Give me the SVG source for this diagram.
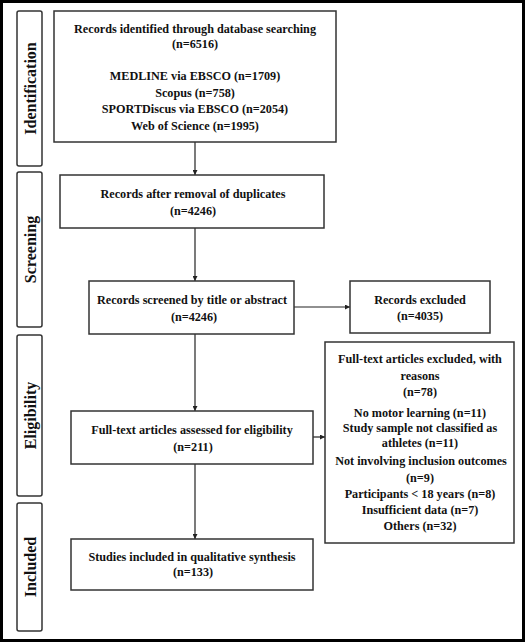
<svg xmlns="http://www.w3.org/2000/svg" width="525" height="642" viewBox="0 0 525 642">
<style>
.frame{fill:#fff;stroke:#000;stroke-width:3}
.box{fill:#fff;stroke:#333;stroke-width:1.5}
.side{fill:#fff;stroke:#333;stroke-width:1.5}
.t{font-family:"Liberation Serif","Times New Roman",serif;font-weight:bold;font-size:12.2px;fill:#111;text-anchor:middle}
.s{font-family:"Liberation Serif","Times New Roman",serif;font-weight:bold;font-size:16px;fill:#111;text-anchor:middle}
.c{stroke:#222;stroke-width:1.2;fill:none;marker-end:url(#ah)}
</style>
<defs>
<marker id="ah" viewBox="0 0 8 8" refX="8" refY="4" markerWidth="5" markerHeight="5" orient="auto" markerUnits="userSpaceOnUse">
<path d="M0,0 L8,4 L0,8 z" fill="#222"/>
</marker>
<clipPath id="clipFT"><rect x="325" y="342" width="189" height="201"/></clipPath>
</defs>
<rect class="frame" x="1.5" y="1.5" width="522" height="639"/>
<g id="phase-identification">
<rect class="side" x="17" y="11" width="25" height="155" rx="2"/>
<text class="s" transform="translate(35.5,88.5) rotate(-90)">Identification</text>
</g>
<g id="phase-screening">
<rect class="side" x="17" y="172" width="25" height="155" rx="2"/>
<text class="s" transform="translate(35.5,249.5) rotate(-90)">Screening</text>
</g>
<g id="phase-eligibility">
<rect class="side" x="17" y="335" width="25" height="161" rx="2"/>
<text class="s" transform="translate(35.5,415.5) rotate(-90)">Eligibility</text>
</g>
<g id="phase-included">
<rect class="side" x="17" y="503" width="25" height="128" rx="2"/>
<text class="s" transform="translate(35.5,567) rotate(-90)">Included</text>
</g>
<g id="connectors">
<line class="c" x1="195" y1="142" x2="195" y2="175"/>
<line class="c" x1="195" y1="228" x2="195" y2="281"/>
<line class="c" x1="294" y1="307" x2="350" y2="307"/>
<line class="c" x1="195" y1="334" x2="195" y2="411"/>
<line class="c" x1="313" y1="437" x2="325" y2="437"/>
<line class="c" x1="195" y1="464" x2="195" y2="539"/>
</g>
<g id="node-identified">
<rect class="box" x="54" y="11" width="282" height="131"/>
<text class="t" x="195" y="33">Records identified through database searching</text>
<text class="t" x="195" y="48">(n=6516)</text>
<text class="t" x="195" y="80">MEDLINE via EBSCO (n=1709)</text>
<text class="t" x="195" y="97">Scopus (n=758)</text>
<text class="t" x="195" y="113">SPORTDiscus via EBSCO (n=2054)</text>
<text class="t" x="195" y="130">Web of Science (n=1995)</text>
</g>
<g id="node-duplicates">
<rect class="box" x="60" y="175" width="264" height="53"/>
<text class="t" x="193" y="198">Records after removal of duplicates</text>
<text class="t" x="193" y="215">(n=4246)</text>
</g>
<g id="node-screened">
<rect class="box" x="89" y="281" width="205" height="53"/>
<text class="t" x="192" y="304">Records screened by title or abstract</text>
<text class="t" x="194" y="321">(n=4246)</text>
</g>
<g id="node-records-excluded">
<rect class="box" x="350" y="281" width="140" height="52"/>
<text class="t" x="420" y="304">Records excluded</text>
<text class="t" x="420" y="320">(n=4035)</text>
</g>
<g id="node-fulltext-excluded">
<rect class="box" x="325" y="342" width="189" height="201"/>
<text class="t" x="420" y="363">Full-text articles excluded, with</text>
<text class="t" x="420" y="380">reasons</text>
<text class="t" x="420" y="396">(n=78)</text>
<text class="t" x="420" y="417">No motor learning (n=11)</text>
<text class="t" x="420" y="432">Study sample not classified as</text>
<text class="t" x="420" y="447">athletes (n=11)</text>
<text class="t" x="421" y="465" clip-path="url(#clipFT)">Not involving inclusion outcomes</text>
<text class="t" x="420" y="482">(n=9)</text>
<text class="t" x="420" y="498">Participants &lt; 18 years (n=8)</text>
<text class="t" x="420" y="514">Insufficient data (n=7)</text>
<text class="t" x="420" y="530">Others (n=32)</text>
</g>
<g id="node-assessed">
<rect class="box" x="71" y="411" width="242" height="53"/>
<text class="t" x="192" y="434">Full-text articles assessed for eligibility</text>
<text class="t" x="193" y="451">(n=211)</text>
</g>
<g id="node-included">
<rect class="box" x="71" y="539" width="242" height="51"/>
<text class="t" x="192" y="561">Studies included in qualitative synthesis</text>
<text class="t" x="193" y="576">(n=133)</text>
</g>
</svg>
